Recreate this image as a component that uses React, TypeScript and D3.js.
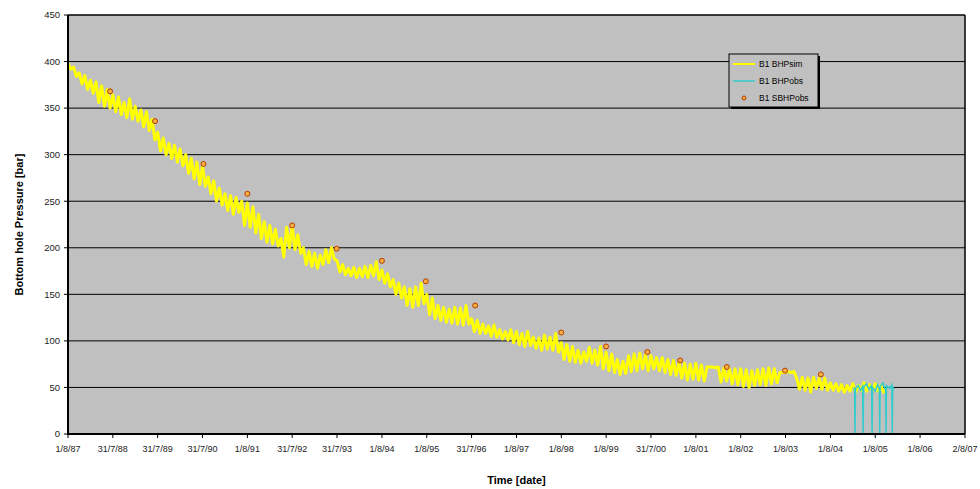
import * as d3 from "d3";

// y axis ticks (bar)
const yTicks = [0, 50, 100, 150, 200, 250, 300, 350, 400, 450];

// x axis ticks (the labels are printed d/m/yy)
const xTickDates = [
  "1987-08-01", "1988-07-31", "1989-07-31", "1990-07-31", "1991-08-01",
  "1992-07-31", "1993-07-31", "1994-08-01", "1995-08-01", "1996-07-31",
  "1997-08-01", "1998-08-01", "1999-08-01", "2000-07-31", "2001-08-01",
  "2002-08-01", "2003-08-01", "2004-08-01", "2005-08-01", "2006-08-01",
  "2007-08-02",
];

// B1 BHPsim: 16 samples per year starting 1/8/87, one row per year
const simStart = "1987-08-01";
const simPerYear = 16;
const simValues = [
  398, 392, 394, 384, 388, 376, 385, 370, 380, 366, 378, 356, 374, 352, 370, 350,
  364, 346, 362, 343, 356, 340, 360, 338, 352, 336, 348, 330, 346, 326, 338, 316,
  324, 304, 318, 300, 312, 296, 310, 292, 306, 288, 300, 280, 296, 274, 292, 268,
  288, 266, 276, 258, 272, 250, 264, 246, 258, 240, 256, 236, 254, 238, 250, 224,
  248, 222, 244, 216, 236, 210, 228, 206, 224, 204, 220, 202, 210, 190, 222, 200,
  224, 198, 214, 194, 200, 182, 196, 180, 194, 178, 192, 182, 198, 184, 200, 188,
  186, 174, 182, 171, 178, 170, 179, 168, 178, 169, 180, 168, 181, 170, 185, 166,
  176, 162, 172, 158, 166, 150, 162, 146, 158, 138, 156, 136, 158, 138, 162, 140,
  150, 128, 146, 124, 138, 122, 136, 120, 134, 119, 136, 118, 135, 117, 138, 118,
  124, 110, 122, 108, 118, 108, 116, 105, 117, 104, 112, 102, 110, 101, 112, 98,
  110, 96, 108, 94, 110, 95, 104, 92, 103, 90, 106, 91, 104, 90, 108, 88,
  98, 80, 96, 78, 94, 77, 90, 76, 88, 78, 93, 76, 90, 74, 94, 70,
  88, 68, 86, 66, 80, 64, 78, 65, 84, 67, 86, 68, 87, 70, 85, 68,
  84, 70, 82, 68, 82, 66, 80, 64, 79, 63, 77, 60, 76, 58, 75, 59,
  76, 58, 74, 57, 72, 72, 72, 71, 72, 56, 71, 57, 70, 54, 70, 53,
  70, 51, 69, 50, 68, 52, 69, 53, 70, 52, 71, 54, 70, 55, 66, 66,
  66, 67, 66, 67, 60, 48, 61, 47, 60, 45, 61, 49, 60, 48, 60, 47,
  55, 47, 54, 46, 53, 45, 52, 46, 54, 45, 52, 47, 55, 46, 53, 47,
  54, 46, 52, 45, 48,
];

// B1 BHPobs (decimal years / bar)
const obsYears = [
  2005.08, 2005.12, 2005.13, 2005.14, 2005.2, 2005.25, 2005.3, 2005.31, 2005.32,
  2005.38, 2005.44, 2005.5, 2005.51, 2005.52, 2005.58, 2005.63, 2005.67, 2005.68,
  2005.69, 2005.75, 2005.81, 2005.82, 2005.83, 2005.9, 2005.95, 2005.96, 2005.97, 2006.0,
];
const obsValues = [
  50, 48, 0, 49, 52, 47, 51, 0, 50,
  54, 48, 52, 0, 50, 46, 53, 49, 0,
  51, 55, 47, 0, 52, 49, 53, 0, 50, 48,
];

// B1 SBHPobs (static pressure points)
const sbhpYears = [
  1988.52, 1989.52, 1990.6, 1991.58, 1992.58, 1993.57, 1994.58, 1995.56,
  1996.66, 1998.58, 1999.58, 2000.5, 2001.23, 2002.27, 2003.57, 2004.37,
];
const sbhpValues = [368, 336, 290, 258, 224, 199, 186, 164, 138, 109, 94, 88, 79, 72, 68, 64];

const legendItems = ["B1 BHPsim", "B1 BHPobs", "B1 SBHPobs"];

const W = 980;
const H = 489;
const left = 68, right = 965, top = 15, bottom = 434;
const font = "Arial, 'Liberation Sans', sans-serif";

const yearToDate = (y: number) => {
  const yr = Math.floor(y);
  return new Date(Date.UTC(yr, 0, 1) + (y - yr) * 365.25 * 864e5);
};

export default function App() {
  const x = d3.scaleTime()
    .domain([new Date(xTickDates[0]), new Date(xTickDates[xTickDates.length - 1])])
    .range([left, right]);
  const y = d3.scaleLinear().domain([0, 450]).range([bottom, top]);
  const fmt = d3.utcFormat("%-d/%-m/%y");

  const t0 = new Date(simStart).getTime();
  const stepMs = (365.25 / simPerYear) * 864e5;
  const sim = simValues.map((v, i) => ({ t: new Date(t0 + i * stepMs), v }));
  const obs = obsYears.map((yy, i) => ({ t: yearToDate(yy), v: obsValues[i] }));
  const sbhp = sbhpYears.map((yy, i) => ({ t: yearToDate(yy), v: sbhpValues[i] }));

  const line = d3.line<{ t: Date; v: number }>()
    .x(d => x(d.t))
    .y(d => y(d.v));

  const lx = 729, ly = 54, lw = 89, lh = 53;

  return (
    <svg width={W} height={H} style={{ position: "absolute", left: 0, top: 0, background: "#fff" }}
      fontFamily={font}>
      <rect x={left} y={top} width={right - left} height={bottom - top} fill="#c0c0c0" />
      {yTicks.filter(t => t > 0 && t < 450).map(t => (
        <line key={t} x1={left} x2={right} y1={y(t)} y2={y(t)} stroke="#000" strokeWidth={1} />
      ))}

      <path d={line(sim) ?? ""} fill="none" stroke="#ffff00" strokeWidth={3} strokeLinejoin="round" />
      <path d={line(obs) ?? ""} fill="none" stroke="#33cccc" strokeWidth={1.5} />
      {sbhp.map((d, i) => (
        <circle key={i} cx={x(d.t)} cy={y(d.v)} r={2.5} fill="#f5b041" stroke="#b83a00" strokeWidth={1} />
      ))}

      {/* frame */}
      <line x1={left} x2={right} y1={top} y2={top} stroke="#000" strokeWidth={1.5} />
      <line x1={right} x2={right} y1={top} y2={bottom} stroke="#000" strokeWidth={1.5} />
      <line x1={left} x2={left} y1={top} y2={bottom + 1} stroke="#000" strokeWidth={2} />
      <line x1={left} x2={right} y1={bottom} y2={bottom} stroke="#000" strokeWidth={2} />

      {/* y axis */}
      {yTicks.map(t => (
        <g key={t}>
          <line x1={left - 4} x2={left} y1={y(t)} y2={y(t)} stroke="#000" />
          <text x={left - 8} y={y(t)} dy="0.35em" textAnchor="end" fontSize={9.5} fill="#222">{t}</text>
        </g>
      ))}
      <text transform={`translate(19,${(top + bottom) / 2}) rotate(-90)`} textAnchor="middle"
        dy="0.35em" fontSize={11} fontWeight="bold">Bottom hole Pressure [bar]</text>

      {/* x axis */}
      {xTickDates.map(s => {
        const d = new Date(s);
        return (
          <g key={s}>
            <line x1={x(d)} x2={x(d)} y1={bottom} y2={bottom + 4} stroke="#000" />
            <text x={x(d)} y={bottom + 18} textAnchor="middle" fontSize={9} fill="#222">{fmt(d)}</text>
          </g>
        );
      })}
      <text x={(left + right) / 2} y={480} textAnchor="middle" dy="0.35em" fontSize={11}
        fontWeight="bold">Time [date]</text>

      {/* legend */}
      <rect x={lx + 2} y={ly + 2} width={lw} height={lh} fill="#000" />
      <rect x={lx} y={ly} width={lw} height={lh} fill="#c0c0c0" stroke="#000" strokeWidth={1} />
      {legendItems.map((name, i) => {
        const yy = ly + 10 + i * 17;
        return (
          <g key={name}>
            {i === 0 && <line x1={lx + 4} x2={lx + 26} y1={yy} y2={yy} stroke="#ffff00" strokeWidth={2} />}
            {i === 1 && <line x1={lx + 4} x2={lx + 26} y1={yy} y2={yy} stroke="#33cccc" strokeWidth={1.5} />}
            {i === 2 && <circle cx={lx + 15} cy={yy} r={2} fill="#f5b041" stroke="#b83a00" strokeWidth={1} />}
            <text x={lx + 30} y={yy} dy="0.35em" fontSize={8.5} fill="#000">{name}</text>
          </g>
        );
      })}
    </svg>
  );
}
